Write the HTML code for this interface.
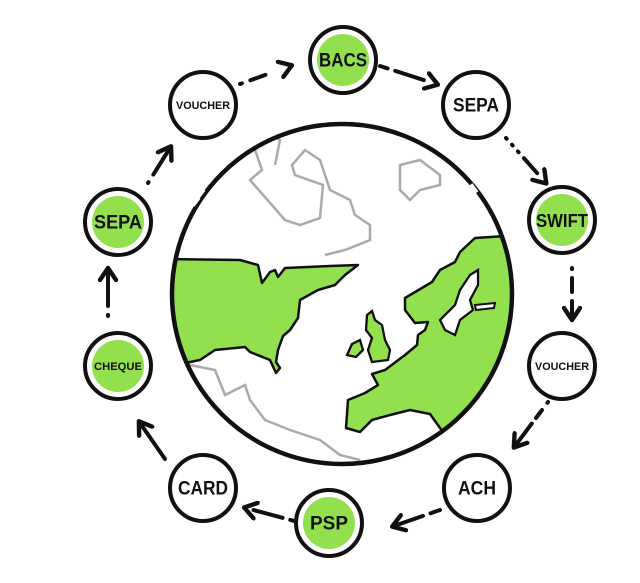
<!DOCTYPE html>
<html><head><meta charset="utf-8"><style>
html,body{margin:0;padding:0;background:#fff;width:640px;height:583px;overflow:hidden}
text{font-family:"Liberation Sans",sans-serif;font-weight:bold;fill:#111;text-anchor:middle;dominant-baseline:central}
</style></head><body>
<svg width="640" height="583" viewBox="0 0 640 583" xmlns="http://www.w3.org/2000/svg">
<defs>
<clipPath id="g"><circle cx="342" cy="294" r="170"/></clipPath>
<marker id="ah" viewBox="0 0 10 10" refX="6" refY="5" markerWidth="5" markerHeight="5" orient="auto-start-reverse">
<path d="M1,1 L7,5 L1,9" fill="none" stroke="#111" stroke-width="2.2" stroke-linecap="round" stroke-linejoin="round"/></marker>
</defs>
<!-- globe -->
<g clip-path="url(#g)">
<circle cx="342" cy="294" r="170" fill="#fff"/>
<!-- gray continents -->
<g fill="none" stroke="#aaa" stroke-width="2.5">
<path d="M230,140 L255,150 L262,170 L250,180 L285,220 L300,225 L320,218 L323,185 L295,175 L292,165 L305,150 L320,160 L330,190 L350,200 L355,215 L370,225 L370,240 L345,250 L325,255"/>
<path d="M250,150 L270,135 L280,140 L275,165"/>
<path d="M400,165 L420,160 L440,175 L440,185 L420,190 L410,200 L400,190 Z"/>
<path d="M190,365 L215,370 L225,395 L245,385 L250,400 L265,420 L290,430 L320,440 L340,455 L360,460"/>
</g>
<!-- USA -->
<path d="M165,259 L240,260 L258,265 L262,283 L270,272 L275,270 L278,277 L285,268 L330,266 L358,265 L345,275 L335,285 L318,290 L300,300 L298,318 L290,330 L283,336 L278,350 L276,362 L280,368 L276,373 L270,360 L250,352 L245,347 L215,350 L200,360 L180,364 L165,360 Z" fill="#92e04e" stroke="#111" stroke-width="2.5" stroke-linejoin="round"/>
<!-- UK / Ireland -->
<path d="M367,315 L372,311 L375,320 L382,325 L385,340 L390,350 L388,360 L372,362 L368,350 L372,338 L366,330 Z" fill="#92e04e" stroke="#111" stroke-width="2.3"/>
<path d="M352,344 L360,340 L363,350 L356,357 L347,355 Z" fill="#92e04e" stroke="#111" stroke-width="2.3"/>
<!-- Europe -->
<path d="M520,235 L475,238 L460,252 L455,262 L440,270 L432,282 L405,298 L405,310 L415,323 L428,322 L425,330 L418,335 L417,345 L405,355 L385,370 L372,374 L378,385 L365,393 L348,400 L346,428 L360,432 L372,420 L390,415 L410,410 L430,414 L440,428 L450,440 L460,450 L470,445 L500,420 L520,400 Z" fill="#92e04e" stroke="#111" stroke-width="2.5" stroke-linejoin="round"/>
<path d="M470,275 L478,270 L478,285 L470,300 L473,310 L460,320 L455,335 L445,330 L440,320 L455,305 L460,290 Z" fill="#fff" stroke="#111" stroke-width="2.3"/>
<path d="M475,305 L495,303 L494,308 L476,310 Z" fill="#fff" stroke="#111" stroke-width="2"/>
</g>
<circle cx="342" cy="294" r="170" fill="none" stroke="#111" stroke-width="4.5"/>
<g stroke="#fff" stroke-width="6">
<line x1="192" y1="205" x2="198" y2="197"/><line x1="197" y1="197" x2="203" y2="189"/>
<line x1="470" y1="185" x2="476" y2="193"/>
<line x1="410" y1="456" x2="418" y2="452"/>
</g>
<!-- arrows -->
<g fill="none" stroke="#111" stroke-width="4" stroke-linecap="round" marker-end="url(#ah)">
<path d="M240,84 L290,66" stroke-dasharray="2 9 16 100"/>
<path d="M380,66 L436,84" stroke-dasharray="8 8 30 100"/>
<path d="M506,138 L545,182" stroke-dasharray="1 8 1 8 1 8 20 100"/>
<path d="M572,268 L572,318" stroke-dasharray="1 9 14 9 30 100"/>
<path d="M548,402 L515,446" stroke-dasharray="1 9 10 7 30 100"/>
<path d="M440,510 L394,526" stroke-dasharray="10 8 30 100"/>
<path d="M298,522 L246,508" stroke-dasharray="8 8 30 100"/>
<path d="M165,459 L140,423"/>
<path d="M108,316 L108,270" stroke-dasharray="1 9 40 100"/>
<path d="M148,183 L170,148" stroke-dasharray="1 9 40 100"/>
</g>
<!-- nodes -->
<g stroke="#111" stroke-width="4">
<circle cx="343" cy="60" r="33" fill="#fff"/><circle cx="343" cy="60" r="26" fill="#92e04e" stroke="none"/>
<circle cx="476" cy="105" r="33" fill="#fff"/>
<circle cx="562" cy="220" r="33" fill="#fff"/><circle cx="562" cy="220" r="26" fill="#92e04e" stroke="none"/>
<circle cx="562" cy="366" r="33" fill="#fff"/>
<circle cx="477" cy="488" r="33" fill="#fff"/>
<circle cx="329" cy="523" r="33" fill="#fff"/><circle cx="329" cy="523" r="26" fill="#92e04e" stroke="none"/>
<circle cx="203" cy="488" r="33" fill="#fff"/>
<circle cx="118" cy="366" r="33" fill="#fff"/><circle cx="118" cy="366" r="26" fill="#92e04e" stroke="none"/>
<circle cx="118" cy="222" r="33" fill="#fff"/><circle cx="118" cy="222" r="26" fill="#92e04e" stroke="none"/>
<circle cx="203" cy="105" r="33" fill="#fff"/>
</g>
<g>
<text x="343" y="61" font-size="19" textLength="48" lengthAdjust="spacingAndGlyphs">BACS</text>
<text x="476" y="106" font-size="19" textLength="46" lengthAdjust="spacingAndGlyphs">SEPA</text>
<text x="562" y="221" font-size="18" textLength="52" lengthAdjust="spacingAndGlyphs">SWIFT</text>
<text x="562" y="367" font-size="11" textLength="54" lengthAdjust="spacingAndGlyphs">VOUCHER</text>
<text x="477" y="489" font-size="19" textLength="38" lengthAdjust="spacingAndGlyphs">ACH</text>
<text x="329" y="524" font-size="19" textLength="38" lengthAdjust="spacingAndGlyphs">PSP</text>
<text x="203" y="489" font-size="19" textLength="50" lengthAdjust="spacingAndGlyphs">CARD</text>
<text x="118" y="367" font-size="11" textLength="48" lengthAdjust="spacingAndGlyphs">CHEQUE</text>
<text x="118" y="223" font-size="19" textLength="48" lengthAdjust="spacingAndGlyphs">SEPA</text>
<text x="203" y="106" font-size="11" textLength="54" lengthAdjust="spacingAndGlyphs">VOUCHER</text>
</g>
</svg>
</body></html>
